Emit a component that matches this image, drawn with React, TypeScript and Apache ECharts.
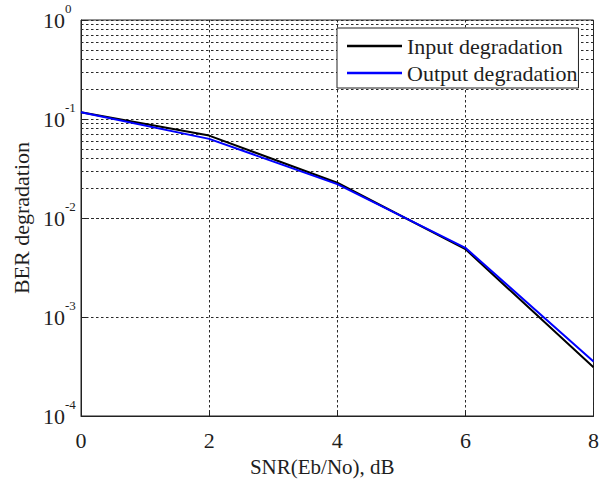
import React, { useEffect, useRef } from "react";
import * as echarts from "echarts";

const snrDb = [0, 2, 4, 6, 8];
const inputDegradation = [0.117, 0.068, 0.0227, 0.00485, 0.00031];
const outputDegradation = [0.117, 0.063, 0.022, 0.005, 0.000355];
const seriesNames = ["Input degradation", "Output degradation"];
const decadeStarts = [1e-4, 1e-3, 1e-2, 1e-1];
const minorMultipliers = [2, 3, 4, 5, 6, 7, 8, 9];

const FONT = "Liberation Serif, Times New Roman, serif";
const TEXT = "#1e1e1e";
const GRID_LINE = { color: "#2a2a2a", width: 1, type: [2.5, 2.5] as number[] };

export default function App() {
  const ref = useRef<HTMLDivElement>(null);
  useEffect(() => {
    if (!ref.current) return;
    const chart = echarts.init(ref.current, null, { renderer: "svg" });
    const minorLines: { yAxis: number }[] = [];
    decadeStarts.forEach((d) =>
      minorMultipliers.forEach((m) => minorLines.push({ yAxis: +(d * m).toPrecision(3) }))
    );
    chart.setOption({
      animation: false,
      backgroundColor: "#fff",
      grid: {
        left: 81,
        top: 20,
        right: 5,
        bottom: 58,
        show: true,
        borderColor: "#222",
        borderWidth: 1,
        backgroundColor: "transparent",
      },
      legend: {
        data: seriesNames.map((n) => ({ name: n, icon: "rect" })),
        orient: "vertical",
        left: 337,
        top: 28,
        itemWidth: 55,
        itemHeight: 2.5,
        itemGap: 5,
        padding: [7, 1, 4, 10],
        backgroundColor: "#fff",
        borderColor: "#222",
        borderWidth: 1,
        borderRadius: 0,
        selectedMode: false,
        textStyle: { fontFamily: FONT, fontSize: 22, color: TEXT, lineHeight: 22 },
      },
      xAxis: {
        type: "value",
        min: 0,
        max: 8,
        interval: 2,
        name: "SNR(Eb/No), dB",
        nameLocation: "middle",
        nameGap: 40,
        nameTextStyle: { fontFamily: FONT, fontSize: 21, color: TEXT, padding: [0, 30, 0, 0] },
        axisLine: { lineStyle: { color: "#222", width: 1 } },
        axisTick: { inside: true, length: 5, lineStyle: { color: "#222" } },
        axisLabel: { fontFamily: FONT, fontSize: 22, color: TEXT, margin: 13 },
        splitLine: { show: true, lineStyle: GRID_LINE },
      },
      yAxis: {
        type: "log",
        logBase: 10,
        min: 1e-4,
        max: 1,
        name: "BER degradation",
        nameLocation: "middle",
        nameGap: 46,
        nameTextStyle: { fontFamily: FONT, fontSize: 22, color: TEXT },
        axisLine: { show: true, lineStyle: { color: "#222", width: 1 } },
        axisTick: { inside: true, length: 5, lineStyle: { color: "#222" } },
        axisLabel: {
          align: "left",
          margin: 38,
          formatter: (v: number) => `{b|10}{s|${Math.round(Math.log10(v))}}`,
          rich: {
            b: { fontFamily: FONT, fontSize: 22, color: TEXT, lineHeight: 22, verticalAlign: "bottom" },
            s: {
              fontFamily: FONT,
              fontSize: 13,
              color: TEXT,
              lineHeight: 13,
              verticalAlign: "bottom",
              padding: [0, 0, 16, 0],
            },
          },
        },
        splitLine: { show: true, lineStyle: GRID_LINE },
      },
      series: [
        {
          type: "line",
          name: "minor-grid",
          data: [],
          silent: true,
          z: 1,
          markLine: {
            silent: true,
            z: 1,
            symbol: ["none", "none"],
            label: { show: false },
            lineStyle: GRID_LINE,
            emphasis: { disabled: true },
            data: minorLines,
          },
        },
        {
          type: "line",
          name: seriesNames[0],
          data: snrDb.map((x, i) => [x, inputDegradation[i]]),
          symbol: "none",
          lineStyle: { color: "#000", width: 2 },
          itemStyle: { color: "#000" },
          z: 3,
        },
        {
          type: "line",
          name: seriesNames[1],
          data: snrDb.map((x, i) => [x, outputDegradation[i]]),
          symbol: "none",
          lineStyle: { color: "#0000ff", width: 2 },
          itemStyle: { color: "#0000ff" },
          z: 4,
        },
      ],
    });
    return () => chart.dispose();
  }, []);
  return (
    <div
      ref={ref}
      style={{ position: "fixed", left: 0, top: 0, width: 602, height: 482, background: "#fff" }}
    />
  );
}
